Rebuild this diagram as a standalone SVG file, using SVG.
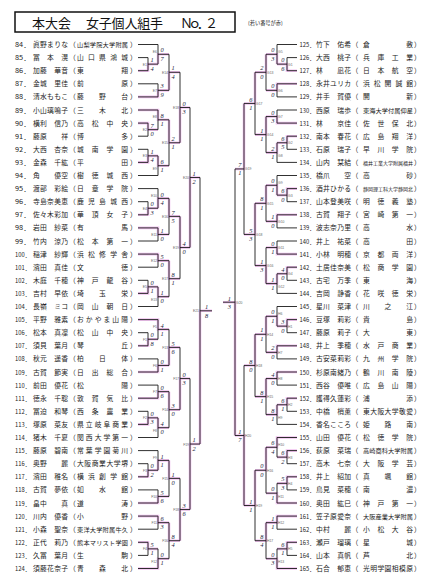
<svg xmlns="http://www.w3.org/2000/svg" width="428" height="585" viewBox="0 0 428 585">
<style>
text{font-family:"Noto Sans CJK JP","Noto Sans CJK SC",sans-serif;font-size:6.8px;fill:#222}
.no{font-size:6px}
.ss{font-size:5px}
.s8{font-size:6.2px}
.s text{font-family:"Liberation Serif",serif;font-style:italic;font-size:6.4px;fill:#1c1c40}
.lb text{font-family:"Liberation Sans",sans-serif;font-size:3.4px;fill:#666}
.e{text-anchor:end}
.ln{fill:none;stroke:#1a1a1a;stroke-width:0.9}
.pk{fill:none;stroke:#eaa8e8;stroke-width:2.6;opacity:.7}
.ttl{font-size:13px;fill:#111}
</style>
<rect width="428" height="585" fill="#fff"/>
<g id="title">
<rect x="15" y="12" width="220" height="20" fill="none" stroke="#111" stroke-width="1.5"/>
<text class="ttl" x="32" y="27.5">本大会</text>
<text class="ttl" x="86" y="27.5" textLength="77">女子個人組手</text>
<text class="ttl" x="180" y="27.5" textLength="38">Ｎｏ．２</text>
<text x="248" y="25" style="font-size:5.2px">(若い番号が赤)</text>
</g>
<g id="connectors">
<path class="pk" d="M138 70.7H148V64.15H158 M138 123.1H148V129.65H158 M138 162.4H148V155.85H158 M138 214.8H148V208.25H158 M138 293.4H148V286.85H158 M158 64.15V54.3H169 M138 96.9H158V90.35H169 M138 110H158V119.8H169 M158 155.85V165.7H169 M158 208.25V198.4H169 M138 227.9H158V234.45H169 M138 254.1H158V260.65H169 M158 286.85V296.7H169 M169 90.35V72.3H180 M169 119.8V142.75H180 M169 198.4V216.4H180 M169 260.65V278.7H180 M180 142.75V107.5H190 M180 216.4V247.55H190 M190 247.55V177.5H200
M138 345.8H148V339.25H158 M138 424.4H148V417.85H158 M138 476.8H148V470.25H158 M138 542.3H148V548.85H158 M138 319.6H158V329.4H169 M138 372H158V365.45H169 M138 398.2H158V391.65H169 M158 417.85V427.7H169 M158 470.25V460.4H169 M138 503H158V496.45H169 M138 516.1H158V522.65H169 M138 568.5H158V558.7H169 M169 365.45V347.4H180 M169 391.65V409.7H180 M169 460.4V478.4H180 M169 522.65V540.7H180 M180 409.7V378.55H190 M180 540.7V509.55H190 M190 509.55V444.05H200 M200 444.05V310.8H212
M297 70.7H287V64.15H277 M297 136.2H287V142.75H277 M297 188.6H287V195.15H277 M297 267.2H287V273.75H277 M277 64.15V54.3H266 M297 83.8H277V90.35H266 M297 123.1H277V116.55H266 M277 142.75V152.6H266 M277 195.15V185.3H266 M297 214.8H277V221.35H266 M297 254.1H277V247.55H266 M277 273.75V283.6H266 M266 54.3V72.3H255 M266 116.55V134.6H255 M266 185.3V203.3H255 M266 283.6V265.6H255 M255 72.3V103.45H244 M255 203.3V234.45H244 M244 103.45V168.95H235
M297 319.6H287V326.15H277 M297 398.2H287V404.75H277 M297 450.6H287V457.15H277 M297 476.8H287V483.35H277 M297 542.3H287V548.85H277 M277 326.15V316.3H266 M297 345.8H277V352.35H266 M297 372H277V378.55H266 M277 404.75V414.6H266 M297 437.5H277V447.3H266 M297 503H277V493.2H266 M297 516.1H277V522.65H266 M297 568.5H277V558.7H266 M266 316.3V334.3H255 M266 378.55V396.6H255 M266 447.3V470.25H255 M266 522.65V540.7H255 M255 334.3V365.45H244 M255 470.25V505.5H244 M244 505.5V435.5H235 M235 435.5V302.2H223"/>
<path class="ln" d="M138 44.5H158 M138 57.6H148 M138 70.7H148 M138 83.8H158 M138 96.9H158 M138 110H158 M138 123.1H148 M138 136.2H148 M138 149.3H148 M138 162.4H148 M138 175.5H158 M138 188.6H158 M138 201.7H148 M138 214.8H148 M138 227.9H158 M138 241H158 M138 254.1H158 M138 267.2H158 M138 280.3H148 M138 293.4H148 M138 306.5H158
M138 319.6H158 M138 332.7H148 M138 345.8H148 M138 358.9H158 M138 372H158 M138 385.1H158 M138 398.2H158 M138 411.3H148 M138 424.4H148 M138 437.5H158 M138 450.6H158 M138 463.7H148 M138 476.8H148 M138 489.9H158 M138 503H158 M138 516.1H158 M138 529.2H158 M138 542.3H148 M138 555.4H148 M138 568.5H158
M148 57.6V70.7M148 64.15H158 M148 123.1V136.2M148 129.65H158 M148 149.3V162.4M148 155.85H158 M148 201.7V214.8M148 208.25H158 M148 280.3V293.4M148 286.85H158
M158 44.5V64.15M158 54.3H169 M158 83.8V96.9M158 90.35H169 M158 110V129.65M158 119.8H169 M158 155.85V175.5M158 165.7H169 M158 188.6V208.25M158 198.4H169 M158 227.9V241M158 234.45H169 M158 254.1V267.2M158 260.65H169 M158 286.85V306.5M158 296.7H169
M169 54.3V90.35M169 72.3H180 M169 119.8V165.7M169 142.75H180 M169 198.4V234.45M169 216.4H180 M169 260.65V296.7M169 278.7H180
M180 72.3V142.75M180 107.5H190 M180 216.4V278.7M180 247.55H190 M190 107.5V247.55M190 177.5H200
M148 332.7V345.8M148 339.25H158 M148 411.3V424.4M148 417.85H158 M148 463.7V476.8M148 470.25H158 M148 542.3V555.4M148 548.85H158
M158 319.6V339.25M158 329.4H169 M158 358.9V372M158 365.45H169 M158 385.1V398.2M158 391.65H169 M158 417.85V437.5M158 427.7H169 M158 450.6V470.25M158 460.4H169 M158 489.9V503M158 496.45H169 M158 516.1V529.2M158 522.65H169 M158 548.85V568.5M158 558.7H169
M169 329.4V365.45M169 347.4H180 M169 391.65V427.7M169 409.7H180 M169 460.4V496.45M169 478.4H180 M169 522.65V558.7M169 540.7H180
M180 347.4V409.7M180 378.55H190 M180 478.4V540.7M180 509.55H190 M190 378.55V509.55M190 444.05H200 M200 177.5V444.05M200 310.8H212
M297 44.5H277 M297 57.6H287 M297 70.7H287 M297 83.8H277 M297 96.9H277 M297 110H277 M297 123.1H277 M297 136.2H287 M297 149.3H287 M297 162.4H277 M297 175.5H277 M297 188.6H287 M297 201.7H287 M297 214.8H277 M297 227.9H277 M297 241H277 M297 254.1H277 M297 267.2H287 M297 280.3H287 M297 293.4H277
M297 306.5H277 M297 319.6H287 M297 332.7H287 M297 345.8H277 M297 358.9H277 M297 372H277 M297 385.1H277 M297 398.2H287 M297 411.3H287 M297 424.4H277 M297 437.5H277 M297 450.6H287 M297 463.7H287 M297 476.8H287 M297 489.9H287 M297 503H277 M297 516.1H277 M297 529.2H277 M297 542.3H287 M297 555.4H287 M297 568.5H277
M287 57.6V70.7M287 64.15H277 M287 136.2V149.3M287 142.75H277 M287 188.6V201.7M287 195.15H277 M287 267.2V280.3M287 273.75H277
M277 44.5V64.15M277 54.3H266 M277 83.8V96.9M277 90.35H266 M277 110V123.1M277 116.55H266 M277 142.75V162.4M277 152.6H266 M277 175.5V195.15M277 185.3H266 M277 214.8V227.9M277 221.35H266 M277 241V254.1M277 247.55H266 M277 273.75V293.4M277 283.6H266
M266 54.3V90.35M266 72.3H255 M266 116.55V152.6M266 134.6H255 M266 185.3V221.35M266 203.3H255 M266 247.55V283.6M266 265.6H255
M255 72.3V134.6M255 103.45H244 M255 203.3V265.6M255 234.45H244 M244 103.45V234.45M244 168.95H235
M287 319.6V332.7M287 326.15H277 M287 398.2V411.3M287 404.75H277 M287 450.6V463.7M287 457.15H277 M287 476.8V489.9M287 483.35H277 M287 542.3V555.4M287 548.85H277
M277 306.5V326.15M277 316.3H266 M277 345.8V358.9M277 352.35H266 M277 372V385.1M277 378.55H266 M277 404.75V424.4M277 414.6H266 M277 437.5V457.15M277 447.3H266 M277 483.35V503M277 493.2H266 M277 516.1V529.2M277 522.65H266 M277 548.85V568.5M277 558.7H266
M266 316.3V352.35M266 334.3H255 M266 378.55V414.6M266 396.6H255 M266 447.3V493.2M266 470.25H255 M266 522.65V558.7M266 540.7H255
M255 334.3V396.6M255 365.45H244 M255 470.25V540.7M255 505.5H244 M244 365.45V505.5M244 435.5H235 M235 168.95V435.5M235 302.2H223"/>
</g>
<g id="match-labels" class="lb">
<text class="e" x="147" y="65.6">E1</text><text class="e" x="147" y="131.1">E2</text><text class="e" x="147" y="157.3">E3</text><text class="e" x="147" y="209.7">E4</text><text class="e" x="147" y="288.3">E5</text>
<text class="e" x="157" y="52.8">E6</text><text class="e" x="157" y="91.8">E7</text><text class="e" x="157" y="118.3">E8</text><text class="e" x="157" y="170.2">E9</text><text class="e" x="157" y="196.9">E10</text><text class="e" x="157" y="235.9">E11</text><text class="e" x="157" y="262.1">E12</text><text class="e" x="157" y="301.2">E13</text>
<text class="e" x="168" y="73.8">E14</text><text class="e" x="168" y="144.2">E15</text><text class="e" x="168" y="217.9">E16</text><text class="e" x="168" y="280.2">E17</text><text class="e" x="179" y="109">E18</text><text class="e" x="179" y="249">E19</text><text class="e" x="189" y="179">E20</text><text class="e" x="199" y="312.3">E21</text>
<text class="e" x="147" y="340.7">F1</text><text class="e" x="147" y="419.3">F2</text><text class="e" x="147" y="471.7">F3</text><text class="e" x="147" y="550.3">F4</text>
<text class="e" x="157" y="327.9">F5</text><text class="e" x="157" y="366.9">F6</text><text class="e" x="157" y="393.1">F7</text><text class="e" x="157" y="432.2">F8</text><text class="e" x="157" y="458.9">F9</text><text class="e" x="157" y="497.9">F10</text><text class="e" x="157" y="524.1">F11</text><text class="e" x="157" y="563.2">F12</text>
<text class="e" x="168" y="348.9">F13</text><text class="e" x="168" y="411.2">F14</text><text class="e" x="168" y="479.9">F15</text><text class="e" x="168" y="542.2">F16</text><text class="e" x="179" y="380">F17</text><text class="e" x="179" y="511">F18</text><text class="e" x="189" y="445.5">F19</text>
<text x="288" y="65.6">G1</text><text x="288" y="144.2">G2</text><text x="288" y="196.6">G3</text><text x="288" y="275.2">G4</text>
<text x="278" y="52.8">G5</text><text x="278" y="91.8">G6</text><text x="278" y="118">G7</text><text x="278" y="157.1">G8</text><text x="278" y="183.8">G9</text><text x="278" y="222.8">G10</text><text x="278" y="249">G11</text><text x="278" y="288.1">G12</text>
<text x="267" y="73.8">G13</text><text x="267" y="136.1">G14</text><text x="267" y="204.8">G15</text><text x="267" y="267.1">G16</text><text x="256" y="104.9">G17</text><text x="256" y="235.9">G18</text><text x="245" y="170.4">G19</text><text x="236" y="303.7">G20</text>
<text x="288" y="327.6">H1</text><text x="288" y="406.2">H2</text><text x="288" y="458.6">H3</text><text x="288" y="484.8">H4</text><text x="288" y="550.3">H5</text>
<text x="278" y="314.8">H6</text><text x="278" y="353.8">H7</text><text x="278" y="380">H8</text><text x="278" y="419.1">H9</text><text x="278" y="445.8">H10</text><text x="278" y="497.7">H11</text><text x="278" y="524.1">H12</text><text x="278" y="563.2">H13</text>
<text x="267" y="335.8">H14</text><text x="267" y="398.1">H15</text><text x="267" y="471.7">H16</text><text x="267" y="542.2">H17</text><text x="256" y="366.9">H18</text><text x="256" y="507">H19</text><text x="245" y="437">H20</text>
</g>
<g id="scores" class="s">
<text x="150.5" y="62.25">1</text><text x="150.5" y="70.65">4</text>
<text x="150.5" y="127.75">7</text><text x="150.5" y="136.15">0</text>
<text x="150.5" y="153.95">1</text><text x="150.5" y="162.35">4</text>
<text x="150.5" y="206.35">0</text><text x="150.5" y="214.75">3</text>
<text x="150.5" y="284.95">0</text><text x="150.5" y="293.35">1</text>
<text x="160.5" y="52.4">0</text><text x="160.5" y="60.8">7</text>
<text x="160.5" y="88.45">3</text><text x="160.5" y="96.85">9</text>
<text x="160.5" y="117.9">8</text><text x="160.5" y="126.3">1</text>
<text x="160.5" y="163.8">6</text><text x="160.5" y="172.2">1</text>
<text x="160.5" y="196.5">0</text><text x="160.5" y="204.9">4</text>
<text x="160.5" y="232.55">1</text><text x="160.5" y="240.95">0</text>
<text x="160.5" y="258.75">5</text><text x="160.5" y="267.15">0</text>
<text x="160.5" y="294.8">1</text><text x="160.5" y="303.2">0</text>
<text x="171.5" y="70.4">1</text><text x="171.5" y="78.8">4</text>
<text x="171.5" y="140.85">2</text><text x="171.5" y="149.25">1</text>
<text x="171.5" y="214.5">7</text><text x="171.5" y="222.9">5</text>
<text x="171.5" y="276.8">8</text><text x="171.5" y="285.2">1</text>
<text x="182.5" y="105.6">0</text><text x="182.5" y="114">3</text>
<text x="182.5" y="245.65">4</text><text x="182.5" y="254.05">0</text>
<text x="192.5" y="175.6">1</text><text x="192.5" y="184">2</text>
<text x="205" y="309.2">1</text><text x="205" y="317.5">8</text>
<text x="150.5" y="337.35">0</text><text x="150.5" y="345.75">8</text>
<text x="150.5" y="415.95">0</text><text x="150.5" y="424.35">3</text>
<text x="150.5" y="468.35">0</text><text x="150.5" y="476.75">2</text>
<text x="150.5" y="546.95">5</text><text x="150.5" y="555.35">1</text>
<text x="160.5" y="327.5">4</text><text x="160.5" y="335.9">1</text>
<text x="160.5" y="363.55">0</text><text x="160.5" y="371.95">1</text>
<text x="160.5" y="389.75">0</text><text x="160.5" y="398.15">6</text>
<text x="160.5" y="425.8">4</text><text x="160.5" y="434.2">0</text>
<text x="160.5" y="458.5">1</text><text x="160.5" y="466.9">1</text>
<text x="160.5" y="494.55">5</text><text x="160.5" y="502.95">6</text>
<text x="160.5" y="520.75">6</text><text x="160.5" y="529.15">3</text>
<text x="160.5" y="556.8">0</text><text x="160.5" y="565.2">1</text>
<text x="171.5" y="345.5">5</text><text x="171.5" y="353.9">6</text>
<text x="171.5" y="407.8">3</text><text x="171.5" y="416.2">0</text>
<text x="171.5" y="476.5">1</text><text x="171.5" y="484.9">0</text>
<text x="171.5" y="538.8">8</text><text x="171.5" y="547.2">4</text>
<text x="182.5" y="376.65">0</text><text x="182.5" y="385.05">3</text>
<text x="182.5" y="507.65">3</text><text x="182.5" y="516.05">6</text>
<text x="192.5" y="442.15">1</text><text x="192.5" y="450.55">2</text>
<g class="e">
<text x="284.5" y="62.25">0</text><text x="284.5" y="70.65">6</text>
<text x="284.5" y="140.85">6</text><text x="284.5" y="149.25">5</text>
<text x="284.5" y="193.25">6</text><text x="284.5" y="201.65">0</text>
<text x="284.5" y="271.85">4</text><text x="284.5" y="280.25">0</text>
<text x="274.5" y="52.4">0</text><text x="274.5" y="60.8">3</text>
<text x="274.5" y="88.45">0</text><text x="274.5" y="96.85">0</text>
<text x="274.5" y="114.65">0</text><text x="274.5" y="123.05">3</text>
<text x="274.5" y="150.7">2</text><text x="274.5" y="159.1">1</text>
<text x="274.5" y="183.4">0</text><text x="274.5" y="191.8">1</text>
<text x="274.5" y="219.45">1</text><text x="274.5" y="227.85">0</text>
<text x="274.5" y="245.65">0</text><text x="274.5" y="254.05">1</text>
<text x="274.5" y="281.7">1</text><text x="274.5" y="290.1">1</text>
<text x="263.5" y="70.4">2</text><text x="263.5" y="78.8">0</text>
<text x="263.5" y="132.7">1</text><text x="263.5" y="141.1">1</text>
<text x="263.5" y="201.4">8</text><text x="263.5" y="209.8">1</text>
<text x="263.5" y="263.7">1</text><text x="263.5" y="272.1">3</text>
<text x="252.5" y="101.55">6</text><text x="252.5" y="109.95">1</text>
<text x="252.5" y="232.55">5</text><text x="252.5" y="240.95">3</text>
<text x="241.5" y="167.05">7</text><text x="241.5" y="175.45">1</text>
<text x="231" y="300.7">1</text><text x="231" y="308.9">3</text>
<text x="284.5" y="324.25">3</text><text x="284.5" y="332.65">0</text>
<text x="284.5" y="402.85">6</text><text x="284.5" y="411.25">1</text>
<text x="284.5" y="455.25">6</text><text x="284.5" y="463.65">2</text>
<text x="284.5" y="481.45">5</text><text x="284.5" y="489.85">3</text>
<text x="284.5" y="546.95">6</text><text x="284.5" y="555.35">1</text>
<text x="274.5" y="314.4">0</text><text x="274.5" y="322.8">1</text>
<text x="274.5" y="350.45">2</text><text x="274.5" y="358.85">0</text>
<text x="274.5" y="376.65">4</text><text x="274.5" y="385.05">0</text>
<text x="274.5" y="412.7">8</text><text x="274.5" y="421.1">1</text>
<text x="274.5" y="445.4">6</text><text x="274.5" y="453.8">4</text>
<text x="274.5" y="491.3">0</text><text x="274.5" y="499.7">1</text>
<text x="274.5" y="520.75">1</text><text x="274.5" y="529.15">1</text>
<text x="274.5" y="556.8">0</text><text x="274.5" y="565.2">3</text>
<text x="263.5" y="332.4">1</text><text x="263.5" y="340.8">1</text>
<text x="263.5" y="394.7">8</text><text x="263.5" y="403.1">1</text>
<text x="263.5" y="468.35">0</text><text x="263.5" y="476.75">0</text>
<text x="263.5" y="538.8">8</text><text x="263.5" y="547.2">4</text>
<text x="252.5" y="363.55">8</text><text x="252.5" y="371.95">0</text>
<text x="252.5" y="503.6">1</text><text x="252.5" y="512">1</text>
<text x="241.5" y="433.6">1</text><text x="241.5" y="442">7</text>
</g>
</g>
<g id="players-left">
<g id="n84" transform="translate(0,44.5)"><text class="no" x="15" y="2.5" textLength="15.5" lengthAdjust="spacingAndGlyphs">84．</text><text x="33" y="2.5" textLength="35">眞野まりな</text><text x="69" y="2.5">（</text><text class="s8" x="77" y="2.5" textLength="51">山梨学院大学附属</text><text x="130" y="2.5">）</text></g>
<g id="n85" transform="translate(0,57.6)"><text class="no" x="15" y="2.5" textLength="15.5" lengthAdjust="spacingAndGlyphs">85．</text><text x="33" y="2.5" textLength="35">冨　本　滉</text><text x="69" y="2.5">（</text><text x="77" y="2.5" textLength="51">山口県鴻城</text><text x="130" y="2.5">）</text></g>
<g id="n86" transform="translate(0,70.7)"><text class="no" x="15" y="2.5" textLength="15.5" lengthAdjust="spacingAndGlyphs">86．</text><text x="33" y="2.5" textLength="35">加藤　華音</text><text x="69" y="2.5">（</text><text x="77" y="2.5" textLength="51">東翔</text><text x="130" y="2.5">）</text></g>
<g id="n87" transform="translate(0,83.8)"><text class="no" x="15" y="2.5" textLength="15.5" lengthAdjust="spacingAndGlyphs">87．</text><text x="33" y="2.5" textLength="35">金城　里佳</text><text x="69" y="2.5">（</text><text x="77" y="2.5" textLength="51">前原</text><text x="130" y="2.5">）</text></g>
<g id="n88" transform="translate(0,96.9)"><text class="no" x="15" y="2.5" textLength="15.5" lengthAdjust="spacingAndGlyphs">88．</text><text x="33" y="2.5" textLength="35">清水ももこ</text><text x="69" y="2.5">（</text><text x="77" y="2.5" textLength="51">藤野台</text><text x="130" y="2.5">）</text></g>
<g id="n89" transform="translate(0,110)"><text class="no" x="15" y="2.5" textLength="15.5" lengthAdjust="spacingAndGlyphs">89．</text><text x="33" y="2.5" textLength="35">小山璃鳴子</text><text x="69" y="2.5">（</text><text x="77" y="2.5" textLength="51">三木北</text><text x="130" y="2.5">）</text></g>
<g id="n90" transform="translate(0,123.1)"><text class="no" x="15" y="2.5" textLength="15.5" lengthAdjust="spacingAndGlyphs">90．</text><text x="33" y="2.5" textLength="35">横利　信乃</text><text x="69" y="2.5">（</text><text x="77" y="2.5" textLength="51">高松中央</text><text x="130" y="2.5">）</text></g>
<g id="n91" transform="translate(0,136.2)"><text class="no" x="15" y="2.5" textLength="15.5" lengthAdjust="spacingAndGlyphs">91．</text><text x="33" y="2.5" textLength="35">藤原　　祥</text><text x="69" y="2.5">（</text><text x="77" y="2.5" textLength="51">博多</text><text x="130" y="2.5">）</text></g>
<g id="n92" transform="translate(0,149.3)"><text class="no" x="15" y="2.5" textLength="15.5" lengthAdjust="spacingAndGlyphs">92．</text><text x="33" y="2.5" textLength="35">大西　杏奈</text><text x="69" y="2.5">（</text><text x="77" y="2.5" textLength="51">城南学園</text><text x="130" y="2.5">）</text></g>
<g id="n93" transform="translate(0,162.4)"><text class="no" x="15" y="2.5" textLength="15.5" lengthAdjust="spacingAndGlyphs">93．</text><text x="33" y="2.5" textLength="35">金森　千紘</text><text x="69" y="2.5">（</text><text x="77" y="2.5" textLength="51">平田</text><text x="130" y="2.5">）</text></g>
<g id="n94" transform="translate(0,175.5)"><text class="no" x="15" y="2.5" textLength="15.5" lengthAdjust="spacingAndGlyphs">94．</text><text x="33" y="2.5" textLength="35">角　　優空</text><text x="69" y="2.5">（</text><text x="77" y="2.5" textLength="51">樹徳城西</text><text x="130" y="2.5">）</text></g>
<g id="n95" transform="translate(0,188.6)"><text class="no" x="15" y="2.5" textLength="15.5" lengthAdjust="spacingAndGlyphs">95．</text><text x="33" y="2.5" textLength="35">渡部　彩絵</text><text x="69" y="2.5">（</text><text x="77" y="2.5" textLength="51">日章学院</text><text x="130" y="2.5">）</text></g>
<g id="n96" transform="translate(0,201.7)"><text class="no" x="15" y="2.5" textLength="15.5" lengthAdjust="spacingAndGlyphs">96．</text><text x="33" y="2.5" textLength="35">寺島奈美恵</text><text x="69" y="2.5">（</text><text x="77" y="2.5" textLength="51">鹿児島城西</text><text x="130" y="2.5">）</text></g>
<g id="n97" transform="translate(0,214.8)"><text class="no" x="15" y="2.5" textLength="15.5" lengthAdjust="spacingAndGlyphs">97．</text><text x="33" y="2.5" textLength="35">佐々木彩加</text><text x="69" y="2.5">（</text><text x="77" y="2.5" textLength="51">華頂女子</text><text x="130" y="2.5">）</text></g>
<g id="n98" transform="translate(0,227.9)"><text class="no" x="15" y="2.5" textLength="15.5" lengthAdjust="spacingAndGlyphs">98．</text><text x="33" y="2.5" textLength="35">岩田　紗菜</text><text x="69" y="2.5">（</text><text x="77" y="2.5" textLength="51">有馬</text><text x="130" y="2.5">）</text></g>
<g id="n99" transform="translate(0,241)"><text class="no" x="15" y="2.5" textLength="15.5" lengthAdjust="spacingAndGlyphs">99．</text><text x="33" y="2.5" textLength="35">竹内　涼乃</text><text x="69" y="2.5">（</text><text x="77" y="2.5" textLength="51">松本第一</text><text x="130" y="2.5">）</text></g>
<g id="n100" transform="translate(0,254.1)"><text class="no" x="15" y="2.5" textLength="15.5" lengthAdjust="spacingAndGlyphs">100．</text><text x="33" y="2.5" textLength="35">稲津　紗輝</text><text x="69" y="2.5">（</text><text x="77" y="2.5" textLength="51">浜松修学舎</text><text x="130" y="2.5">）</text></g>
<g id="n101" transform="translate(0,267.2)"><text class="no" x="15" y="2.5" textLength="15.5" lengthAdjust="spacingAndGlyphs">101．</text><text x="33" y="2.5" textLength="35">濱田　真佳</text><text x="69" y="2.5">（</text><text x="77" y="2.5" textLength="51">文徳</text><text x="130" y="2.5">）</text></g>
<g id="n102" transform="translate(0,280.3)"><text class="no" x="15" y="2.5" textLength="15.5" lengthAdjust="spacingAndGlyphs">102．</text><text x="33" y="2.5" textLength="35">木庭　千穂</text><text x="69" y="2.5">（</text><text x="77" y="2.5" textLength="51">神戸龍谷</text><text x="130" y="2.5">）</text></g>
<g id="n103" transform="translate(0,293.4)"><text class="no" x="15" y="2.5" textLength="15.5" lengthAdjust="spacingAndGlyphs">103．</text><text x="33" y="2.5" textLength="35">吉村　早依</text><text x="69" y="2.5">（</text><text x="77" y="2.5" textLength="51">埼玉栄</text><text x="130" y="2.5">）</text></g>
<g id="n104" transform="translate(0,306.5)"><text class="no" x="15" y="2.5" textLength="15.5" lengthAdjust="spacingAndGlyphs">104．</text><text x="33" y="2.5" textLength="35">長嶺　ミコ</text><text x="69" y="2.5">（</text><text x="77" y="2.5" textLength="51">岡山朝日</text><text x="130" y="2.5">）</text></g>
<g id="n105" transform="translate(0,319.6)"><text class="no" x="15" y="2.5" textLength="15.5" lengthAdjust="spacingAndGlyphs">105．</text><text x="33" y="2.5" textLength="35">平野　雅素</text><text x="69" y="2.5">（</text><text x="77" y="2.5" textLength="51">おかやま山陽</text><text x="130" y="2.5">）</text></g>
<g id="n106" transform="translate(0,332.7)"><text class="no" x="15" y="2.5" textLength="15.5" lengthAdjust="spacingAndGlyphs">106．</text><text x="33" y="2.5" textLength="35">松本　真凜</text><text x="69" y="2.5">（</text><text x="77" y="2.5" textLength="51">松山中央</text><text x="130" y="2.5">）</text></g>
<g id="n107" transform="translate(0,345.8)"><text class="no" x="15" y="2.5" textLength="15.5" lengthAdjust="spacingAndGlyphs">107．</text><text x="33" y="2.5" textLength="35">須貝　葉月</text><text x="69" y="2.5">（</text><text x="77" y="2.5" textLength="51">琴丘</text><text x="130" y="2.5">）</text></g>
<g id="n108" transform="translate(0,358.9)"><text class="no" x="15" y="2.5" textLength="15.5" lengthAdjust="spacingAndGlyphs">108．</text><text x="33" y="2.5" textLength="35">秋元　遥香</text><text x="69" y="2.5">（</text><text x="77" y="2.5" textLength="51">柏日体</text><text x="130" y="2.5">）</text></g>
<g id="n109" transform="translate(0,372)"><text class="no" x="15" y="2.5" textLength="15.5" lengthAdjust="spacingAndGlyphs">109．</text><text x="33" y="2.5" textLength="35">古賀　節実</text><text x="69" y="2.5">（</text><text x="77" y="2.5" textLength="51">日出総合</text><text x="130" y="2.5">）</text></g>
<g id="n110" transform="translate(0,385.1)"><text class="no" x="15" y="2.5" textLength="15.5" lengthAdjust="spacingAndGlyphs">110．</text><text x="33" y="2.5" textLength="35">前田　優花</text><text x="69" y="2.5">（</text><text x="77" y="2.5" textLength="51">松陽</text><text x="130" y="2.5">）</text></g>
<g id="n111" transform="translate(0,398.2)"><text class="no" x="15" y="2.5" textLength="15.5" lengthAdjust="spacingAndGlyphs">111．</text><text x="33" y="2.5" textLength="35">徳永　千聡</text><text x="69" y="2.5">（</text><text x="77" y="2.5" textLength="51">敦賀気比</text><text x="130" y="2.5">）</text></g>
<g id="n112" transform="translate(0,411.3)"><text class="no" x="15" y="2.5" textLength="15.5" lengthAdjust="spacingAndGlyphs">112．</text><text x="33" y="2.5" textLength="35">冨迫　和琴</text><text x="69" y="2.5">（</text><text x="77" y="2.5" textLength="51">西条農業</text><text x="130" y="2.5">）</text></g>
<g id="n113" transform="translate(0,424.4)"><text class="no" x="15" y="2.5" textLength="15.5" lengthAdjust="spacingAndGlyphs">113．</text><text x="33" y="2.5" textLength="35">塚原　菜友</text><text x="69" y="2.5">（</text><text x="77" y="2.5" textLength="51">県立岐阜商業</text><text x="130" y="2.5">）</text></g>
<g id="n114" transform="translate(0,437.5)"><text class="no" x="15" y="2.5" textLength="15.5" lengthAdjust="spacingAndGlyphs">114．</text><text x="33" y="2.5" textLength="35">猪木　千夏</text><text x="69" y="2.5">（</text><text x="77" y="2.5" textLength="51">関西大学第一</text><text x="130" y="2.5">）</text></g>
<g id="n115" transform="translate(0,450.6)"><text class="no" x="15" y="2.5" textLength="15.5" lengthAdjust="spacingAndGlyphs">115．</text><text x="33" y="2.5" textLength="35">藤原　碧南</text><text x="69" y="2.5">（</text><text x="77" y="2.5" textLength="51">常葉学園菊川</text><text x="130" y="2.5">）</text></g>
<g id="n116" transform="translate(0,463.7)"><text class="no" x="15" y="2.5" textLength="15.5" lengthAdjust="spacingAndGlyphs">116．</text><text x="33" y="2.5" textLength="35">奥野　　麗</text><text x="69" y="2.5">（</text><text x="77" y="2.5" textLength="51">大阪商業大学堺</text><text x="130" y="2.5">）</text></g>
<g id="n117" transform="translate(0,476.8)"><text class="no" x="15" y="2.5" textLength="15.5" lengthAdjust="spacingAndGlyphs">117．</text><text x="33" y="2.5" textLength="35">濱田　稚名</text><text x="69" y="2.5">（</text><text x="77" y="2.5" textLength="51">横浜創学館</text><text x="130" y="2.5">）</text></g>
<g id="n118" transform="translate(0,489.9)"><text class="no" x="15" y="2.5" textLength="15.5" lengthAdjust="spacingAndGlyphs">118．</text><text x="33" y="2.5" textLength="35">古賀　夢依</text><text x="69" y="2.5">（</text><text x="77" y="2.5" textLength="51">如水館</text><text x="130" y="2.5">）</text></g>
<g id="n119" transform="translate(0,503)"><text class="no" x="15" y="2.5" textLength="15.5" lengthAdjust="spacingAndGlyphs">119．</text><text x="33" y="2.5" textLength="35">畠中　　真</text><text x="69" y="2.5">（</text><text x="77" y="2.5" textLength="51">道涛</text><text x="130" y="2.5">）</text></g>
<g id="n120" transform="translate(0,516.1)"><text class="no" x="15" y="2.5" textLength="15.5" lengthAdjust="spacingAndGlyphs">120．</text><text x="33" y="2.5" textLength="35">川内　優香</text><text x="69" y="2.5">（</text><text x="77" y="2.5" textLength="51">小野</text><text x="130" y="2.5">）</text></g>
<g id="n121" transform="translate(0,529.2)"><text class="no" x="15" y="2.5" textLength="15.5" lengthAdjust="spacingAndGlyphs">121．</text><text x="33" y="2.5" textLength="35">小森　聖奈</text><text x="69" y="2.5">（</text><text class="s8" x="77" y="2.5" textLength="51">東洋大学附属牛久</text><text x="130" y="2.5">）</text></g>
<g id="n122" transform="translate(0,542.3)"><text class="no" x="15" y="2.5" textLength="15.5" lengthAdjust="spacingAndGlyphs">122．</text><text x="33" y="2.5" textLength="35">正代　莉乃</text><text x="69" y="2.5">（</text><text class="s8" x="77" y="2.5" textLength="51">熊本マリスト学園</text><text x="130" y="2.5">）</text></g>
<g id="n123" transform="translate(0,555.4)"><text class="no" x="15" y="2.5" textLength="15.5" lengthAdjust="spacingAndGlyphs">123．</text><text x="33" y="2.5" textLength="35">久冨　葉月</text><text x="69" y="2.5">（</text><text x="77" y="2.5" textLength="51">生駒</text><text x="130" y="2.5">）</text></g>
<g id="n124" transform="translate(0,568.5)"><text class="no" x="15" y="2.5" textLength="15.5" lengthAdjust="spacingAndGlyphs">124．</text><text x="33" y="2.5" textLength="35">須藤花奈子</text><text x="69" y="2.5">（</text><text x="77" y="2.5" textLength="51">青森北</text><text x="130" y="2.5">）</text></g>
</g>
<g id="players-right">
<g id="n125" transform="translate(0,44.5)"><text class="no" x="299.5" y="2.5" textLength="15.5" lengthAdjust="spacingAndGlyphs">125．</text><text x="316" y="2.5" textLength="35">竹下　佑希</text><text x="351.5" y="2.5">（</text><text x="363" y="2.5" textLength="50">倉敷</text><text x="414" y="2.5">）</text></g>
<g id="n126" transform="translate(0,57.6)"><text class="no" x="299.5" y="2.5" textLength="15.5" lengthAdjust="spacingAndGlyphs">126．</text><text x="316" y="2.5" textLength="35">大西　桃子</text><text x="351.5" y="2.5">（</text><text x="363" y="2.5" textLength="50">兵庫工業</text><text x="414" y="2.5">）</text></g>
<g id="n127" transform="translate(0,70.7)"><text class="no" x="299.5" y="2.5" textLength="15.5" lengthAdjust="spacingAndGlyphs">127．</text><text x="316" y="2.5" textLength="35">林　　凪花</text><text x="351.5" y="2.5">（</text><text x="363" y="2.5" textLength="50">日本航空</text><text x="414" y="2.5">）</text></g>
<g id="n128" transform="translate(0,83.8)"><text class="no" x="299.5" y="2.5" textLength="15.5" lengthAdjust="spacingAndGlyphs">128．</text><text x="316" y="2.5" textLength="35">永井ユリカ</text><text x="351.5" y="2.5">（</text><text x="363" y="2.5" textLength="50">浜松開誠館</text><text x="414" y="2.5">）</text></g>
<g id="n129" transform="translate(0,96.9)"><text class="no" x="299.5" y="2.5" textLength="15.5" lengthAdjust="spacingAndGlyphs">129．</text><text x="316" y="2.5" textLength="35">井手　賀優</text><text x="351.5" y="2.5">（</text><text x="363" y="2.5" textLength="50">開新</text><text x="414" y="2.5">）</text></g>
<g id="n130" transform="translate(0,110)"><text class="no" x="299.5" y="2.5" textLength="15.5" lengthAdjust="spacingAndGlyphs">130．</text><text x="316" y="2.5" textLength="35">西原　瑞歩</text><text x="351.5" y="2.5">（</text><text class="s8" x="363" y="2.5" textLength="50">東海大学付属仰星</text><text x="414" y="2.5">）</text></g>
<g id="n131" transform="translate(0,123.1)"><text class="no" x="299.5" y="2.5" textLength="15.5" lengthAdjust="spacingAndGlyphs">131．</text><text x="316" y="2.5" textLength="35">林　　京佳</text><text x="351.5" y="2.5">（</text><text x="363" y="2.5" textLength="50">佐世保北</text><text x="414" y="2.5">）</text></g>
<g id="n132" transform="translate(0,136.2)"><text class="no" x="299.5" y="2.5" textLength="15.5" lengthAdjust="spacingAndGlyphs">132．</text><text x="316" y="2.5" textLength="35">南本　春花</text><text x="351.5" y="2.5">（</text><text x="363" y="2.5" textLength="50">広島翔洋</text><text x="414" y="2.5">）</text></g>
<g id="n133" transform="translate(0,149.3)"><text class="no" x="299.5" y="2.5" textLength="15.5" lengthAdjust="spacingAndGlyphs">133．</text><text x="316" y="2.5" textLength="35">石原　瑞子</text><text x="351.5" y="2.5">（</text><text x="363" y="2.5" textLength="50">早川学院</text><text x="414" y="2.5">）</text></g>
<g id="n134" transform="translate(0,162.4)"><text class="no" x="299.5" y="2.5" textLength="15.5" lengthAdjust="spacingAndGlyphs">134．</text><text x="316" y="2.5" textLength="35">山内　栞結</text><text x="351.5" y="2.5">（</text><text class="ss" x="363" y="2.5" textLength="50">福井工業大学附属福井</text><text x="414" y="2.5">）</text></g>
<g id="n135" transform="translate(0,175.5)"><text class="no" x="299.5" y="2.5" textLength="15.5" lengthAdjust="spacingAndGlyphs">135．</text><text x="316" y="2.5" textLength="35">橋爪　　空</text><text x="351.5" y="2.5">（</text><text x="363" y="2.5" textLength="50">高砂</text><text x="414" y="2.5">）</text></g>
<g id="n136" transform="translate(0,188.6)"><text class="no" x="299.5" y="2.5" textLength="15.5" lengthAdjust="spacingAndGlyphs">136．</text><text x="316" y="2.5" textLength="35">酒井ひかる</text><text x="351.5" y="2.5">（</text><text class="ss" x="363" y="2.5" textLength="50">静岡理工科大学静岡北</text><text x="414" y="2.5">）</text></g>
<g id="n137" transform="translate(0,201.7)"><text class="no" x="299.5" y="2.5" textLength="15.5" lengthAdjust="spacingAndGlyphs">137．</text><text x="316" y="2.5" textLength="35">山本登美咲</text><text x="351.5" y="2.5">（</text><text x="363" y="2.5" textLength="50">明徳義塾</text><text x="414" y="2.5">）</text></g>
<g id="n138" transform="translate(0,214.8)"><text class="no" x="299.5" y="2.5" textLength="15.5" lengthAdjust="spacingAndGlyphs">138．</text><text x="316" y="2.5" textLength="35">古賀　翔子</text><text x="351.5" y="2.5">（</text><text x="363" y="2.5" textLength="50">宮崎第一</text><text x="414" y="2.5">）</text></g>
<g id="n139" transform="translate(0,227.9)"><text class="no" x="299.5" y="2.5" textLength="15.5" lengthAdjust="spacingAndGlyphs">139．</text><text x="316" y="2.5" textLength="35">波志奈乃里</text><text x="351.5" y="2.5">（</text><text x="363" y="2.5" textLength="50">高水</text><text x="414" y="2.5">）</text></g>
<g id="n140" transform="translate(0,241)"><text class="no" x="299.5" y="2.5" textLength="15.5" lengthAdjust="spacingAndGlyphs">140．</text><text x="316" y="2.5" textLength="35">井上　祐菜</text><text x="351.5" y="2.5">（</text><text x="363" y="2.5" textLength="50">高田</text><text x="414" y="2.5">）</text></g>
<g id="n141" transform="translate(0,254.1)"><text class="no" x="299.5" y="2.5" textLength="15.5" lengthAdjust="spacingAndGlyphs">141．</text><text x="316" y="2.5" textLength="35">小林　明穂</text><text x="351.5" y="2.5">（</text><text x="363" y="2.5" textLength="50">京都両洋</text><text x="414" y="2.5">）</text></g>
<g id="n142" transform="translate(0,267.2)"><text class="no" x="299.5" y="2.5" textLength="15.5" lengthAdjust="spacingAndGlyphs">142．</text><text x="316" y="2.5" textLength="35">土居佳奈美</text><text x="351.5" y="2.5">（</text><text x="363" y="2.5" textLength="50">松商学園</text><text x="414" y="2.5">）</text></g>
<g id="n143" transform="translate(0,280.3)"><text class="no" x="299.5" y="2.5" textLength="15.5" lengthAdjust="spacingAndGlyphs">143．</text><text x="316" y="2.5" textLength="35">古宅　万季</text><text x="351.5" y="2.5">（</text><text x="363" y="2.5" textLength="50">東海</text><text x="414" y="2.5">）</text></g>
<g id="n144" transform="translate(0,293.4)"><text class="no" x="299.5" y="2.5" textLength="15.5" lengthAdjust="spacingAndGlyphs">144．</text><text x="316" y="2.5" textLength="35">吉岡　静香</text><text x="351.5" y="2.5">（</text><text x="363" y="2.5" textLength="50">花咲徳栄</text><text x="414" y="2.5">）</text></g>
<g id="n145" transform="translate(0,306.5)"><text class="no" x="299.5" y="2.5" textLength="15.5" lengthAdjust="spacingAndGlyphs">145．</text><text x="316" y="2.5" textLength="35">星川　菜津</text><text x="351.5" y="2.5">（</text><text x="363" y="2.5" textLength="50">川之江</text><text x="414" y="2.5">）</text></g>
<g id="n146" transform="translate(0,319.6)"><text class="no" x="299.5" y="2.5" textLength="15.5" lengthAdjust="spacingAndGlyphs">146．</text><text x="316" y="2.5" textLength="35">豆塚　莉彩</text><text x="351.5" y="2.5">（</text><text x="363" y="2.5" textLength="50">貴島</text><text x="414" y="2.5">）</text></g>
<g id="n147" transform="translate(0,332.7)"><text class="no" x="299.5" y="2.5" textLength="15.5" lengthAdjust="spacingAndGlyphs">147．</text><text x="316" y="2.5" textLength="35">藤原　莉子</text><text x="351.5" y="2.5">（</text><text x="363" y="2.5" textLength="50">大東</text><text x="414" y="2.5">）</text></g>
<g id="n148" transform="translate(0,345.8)"><text class="no" x="299.5" y="2.5" textLength="15.5" lengthAdjust="spacingAndGlyphs">148．</text><text x="316" y="2.5" textLength="35">井上　季穂</text><text x="351.5" y="2.5">（</text><text x="363" y="2.5" textLength="50">水戸商業</text><text x="414" y="2.5">）</text></g>
<g id="n149" transform="translate(0,358.9)"><text class="no" x="299.5" y="2.5" textLength="15.5" lengthAdjust="spacingAndGlyphs">149．</text><text x="316" y="2.5" textLength="35">古安菜莉彩</text><text x="351.5" y="2.5">（</text><text x="363" y="2.5" textLength="50">九州学院</text><text x="414" y="2.5">）</text></g>
<g id="n150" transform="translate(0,372)"><text class="no" x="299.5" y="2.5" textLength="15.5" lengthAdjust="spacingAndGlyphs">150．</text><text x="316" y="2.5" textLength="35">杉原南緒乃</text><text x="351.5" y="2.5">（</text><text x="363" y="2.5" textLength="50">鶴川南陵</text><text x="414" y="2.5">）</text></g>
<g id="n151" transform="translate(0,385.1)"><text class="no" x="299.5" y="2.5" textLength="15.5" lengthAdjust="spacingAndGlyphs">151．</text><text x="316" y="2.5" textLength="35">西谷　優唯</text><text x="351.5" y="2.5">（</text><text x="363" y="2.5" textLength="50">広島山陽</text><text x="414" y="2.5">）</text></g>
<g id="n152" transform="translate(0,398.2)"><text class="no" x="299.5" y="2.5" textLength="15.5" lengthAdjust="spacingAndGlyphs">152．</text><text x="316" y="2.5" textLength="35">護得久蓮彩</text><text x="351.5" y="2.5">（</text><text x="363" y="2.5" textLength="50">浦添</text><text x="414" y="2.5">）</text></g>
<g id="n153" transform="translate(0,411.3)"><text class="no" x="299.5" y="2.5" textLength="15.5" lengthAdjust="spacingAndGlyphs">153．</text><text x="316" y="2.5" textLength="35">中橋　梢薫</text><text x="351.5" y="2.5">（</text><text x="363" y="2.5" textLength="50">東大阪大学敬愛</text><text x="414" y="2.5">）</text></g>
<g id="n154" transform="translate(0,424.4)"><text class="no" x="299.5" y="2.5" textLength="15.5" lengthAdjust="spacingAndGlyphs">154．</text><text x="316" y="2.5" textLength="35">香名こころ</text><text x="351.5" y="2.5">（</text><text x="363" y="2.5" textLength="50">姫路南</text><text x="414" y="2.5">）</text></g>
<g id="n155" transform="translate(0,437.5)"><text class="no" x="299.5" y="2.5" textLength="15.5" lengthAdjust="spacingAndGlyphs">155．</text><text x="316" y="2.5" textLength="35">山田　優花</text><text x="351.5" y="2.5">（</text><text x="363" y="2.5" textLength="50">松徳学院</text><text x="414" y="2.5">）</text></g>
<g id="n156" transform="translate(0,450.6)"><text class="no" x="299.5" y="2.5" textLength="15.5" lengthAdjust="spacingAndGlyphs">156．</text><text x="316" y="2.5" textLength="35">荻原　菜瑞</text><text x="351.5" y="2.5">（</text><text class="s8" x="363" y="2.5" textLength="50">高崎商科大学附属</text><text x="414" y="2.5">）</text></g>
<g id="n157" transform="translate(0,463.7)"><text class="no" x="299.5" y="2.5" textLength="15.5" lengthAdjust="spacingAndGlyphs">157．</text><text x="316" y="2.5" textLength="35">高木　七奈</text><text x="351.5" y="2.5">（</text><text x="363" y="2.5" textLength="50">大阪学芸</text><text x="414" y="2.5">）</text></g>
<g id="n158" transform="translate(0,476.8)"><text class="no" x="299.5" y="2.5" textLength="15.5" lengthAdjust="spacingAndGlyphs">158．</text><text x="316" y="2.5" textLength="35">井上　紹加</text><text x="351.5" y="2.5">（</text><text x="363" y="2.5" textLength="50">真颯館</text><text x="414" y="2.5">）</text></g>
<g id="n159" transform="translate(0,489.9)"><text class="no" x="299.5" y="2.5" textLength="15.5" lengthAdjust="spacingAndGlyphs">159．</text><text x="316" y="2.5" textLength="35">鳥見　菜穂</text><text x="351.5" y="2.5">（</text><text x="363" y="2.5" textLength="50">南濃</text><text x="414" y="2.5">）</text></g>
<g id="n160" transform="translate(0,503)"><text class="no" x="299.5" y="2.5" textLength="15.5" lengthAdjust="spacingAndGlyphs">160．</text><text x="316" y="2.5" textLength="35">奥田　紘巳</text><text x="351.5" y="2.5">（</text><text x="363" y="2.5" textLength="50">神戸第一</text><text x="414" y="2.5">）</text></g>
<g id="n161" transform="translate(0,516.1)"><text class="no" x="299.5" y="2.5" textLength="15.5" lengthAdjust="spacingAndGlyphs">161．</text><text x="316" y="2.5" textLength="35">笠子原愛奈</text><text x="351.5" y="2.5">（</text><text class="s8" x="363" y="2.5" textLength="50">大阪産業大学附属</text><text x="414" y="2.5">）</text></g>
<g id="n162" transform="translate(0,529.2)"><text class="no" x="299.5" y="2.5" textLength="15.5" lengthAdjust="spacingAndGlyphs">162．</text><text x="316" y="2.5" textLength="35">中村　　麗</text><text x="351.5" y="2.5">（</text><text x="363" y="2.5" textLength="50">小松大谷</text><text x="414" y="2.5">）</text></g>
<g id="n163" transform="translate(0,542.3)"><text class="no" x="299.5" y="2.5" textLength="15.5" lengthAdjust="spacingAndGlyphs">163．</text><text x="316" y="2.5" textLength="35">瀬戸　瑠璃</text><text x="351.5" y="2.5">（</text><text x="363" y="2.5" textLength="50">星城</text><text x="414" y="2.5">）</text></g>
<g id="n164" transform="translate(0,555.4)"><text class="no" x="299.5" y="2.5" textLength="15.5" lengthAdjust="spacingAndGlyphs">164．</text><text x="316" y="2.5" textLength="35">山本　真帆</text><text x="351.5" y="2.5">（</text><text x="363" y="2.5" textLength="50">芦北</text><text x="414" y="2.5">）</text></g>
<g id="n165" transform="translate(0,568.5)"><text class="no" x="299.5" y="2.5" textLength="15.5" lengthAdjust="spacingAndGlyphs">165．</text><text x="316" y="2.5" textLength="35">石合　郁恵</text><text x="351.5" y="2.5">（</text><text x="363" y="2.5" textLength="50">光明学園相模原</text><text x="414" y="2.5">）</text></g>
</g>
</svg>
